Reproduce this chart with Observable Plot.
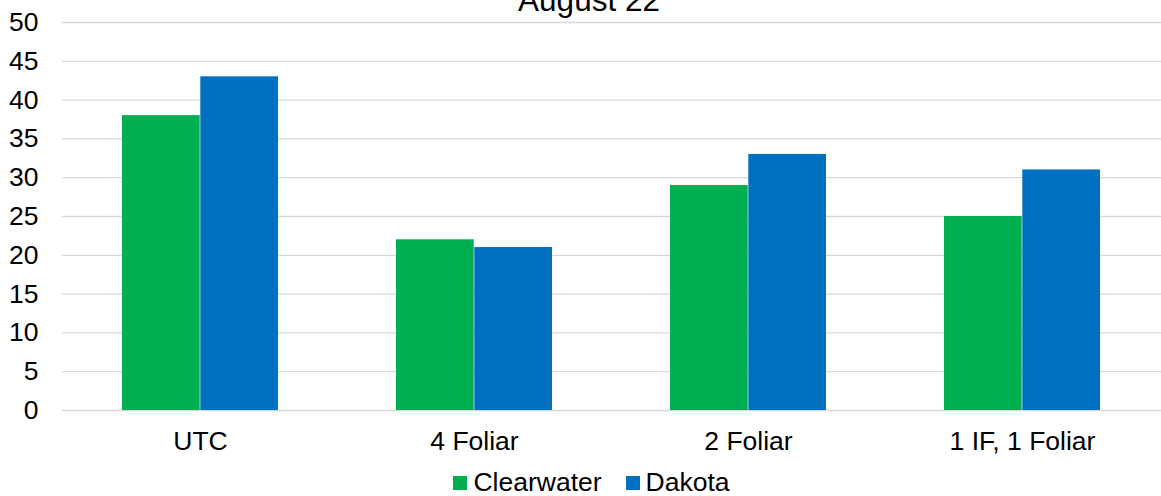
<!DOCTYPE html>
<html>
<head>
<meta charset="utf-8">
<script src="https://cdn.jsdelivr.net/npm/d3@7"></script>
<script src="https://cdn.jsdelivr.net/npm/@observablehq/plot@0.6"></script>
<style>
  html, body { margin: 0; padding: 0; background: #fff; }
  body { width: 1161px; height: 496px; overflow: hidden; font-family: "Liberation Sans", Arial, sans-serif; }
  #chart svg { display: block; }
  #legend { box-sizing: border-box; height: 30px; padding-top: 3px; display: flex; justify-content: center; align-items: center; font-size: 26.5px; line-height: 1; color: #000; margin-left: 22px; }
  .item { display: flex; align-items: center; margin: 0 12px; }
  .sw { width: 14px; height: 14px; margin-right: 6px; }
</style>
</head>
<body>
<div id="chart"></div>
<div id="legend"></div>
<script>
const titleText = "August 22";
const categories = ["UTC", "4 Foliar", "2 Foliar", "1 IF, 1 Foliar"];
const seriesNames = ["Clearwater", "Dakota"];
const clearwater = [38, 22, 29, 25];
const dakota = [43, 21, 33, 31];
const colors = ["#00B050", "#0070C0"];
const yTicks = [0, 5, 10, 15, 20, 25, 30, 35, 40, 45, 50];

const dataC = categories.map((c, i) => ({category: c, value: clearwater[i]}));
const dataD = categories.map((c, i) => ({category: c, value: dakota[i]}));

const W = 1161, H = 466, mL = 62, mR = 0;
const pInner = 0.43, pOuter = 0.215;
const step = (W - mL - mR) / (categories.length - pInner + 2 * pOuter);
const half = step * (1 - pInner) / 2;

const chart = Plot.plot({
  width: W,
  height: H,
  marginLeft: mL,
  marginRight: mR,
  marginTop: 22,
  marginBottom: H - 410,
  style: {fontFamily: "'Liberation Sans', Arial, sans-serif", fontSize: "26.5px", color: "#000", background: "#fff"},
  x: {domain: categories, paddingInner: pInner, paddingOuter: pOuter, label: null},
  y: {domain: [0, 50], label: null},
  marks: [
    Plot.ruleY(yTicks, {stroke: "#d9d9d9", strokeWidth: 1.3}),
    Plot.barY(dataC, {x: "category", y: "value", fill: colors[0], insetRight: half}),
    Plot.barY(dataD, {x: "category", y: "value", fill: colors[1], insetLeft: half}),
    Plot.axisY({ticks: yTicks, tickSize: 0, tickPadding: 24, fontSize: 26.5, label: null}),
    Plot.axisX({tickSize: 0, tickPadding: 21, fontSize: 26.5, label: null}),
    Plot.text([titleText], {frameAnchor: "top", lineAnchor: "bottom", dy: -12, dx: -23, fontSize: 31.5, fill: "#000"})
  ]
});
document.getElementById("chart").appendChild(chart);

const legend = document.getElementById("legend");
seriesNames.forEach((name, i) => {
  const item = document.createElement("div");
  item.className = "item";
  const sw = document.createElement("div");
  sw.className = "sw";
  sw.style.background = colors[i];
  const label = document.createElement("span");
  label.textContent = name;
  item.appendChild(sw);
  item.appendChild(label);
  legend.appendChild(item);
});
</script>
</body>
</html>
